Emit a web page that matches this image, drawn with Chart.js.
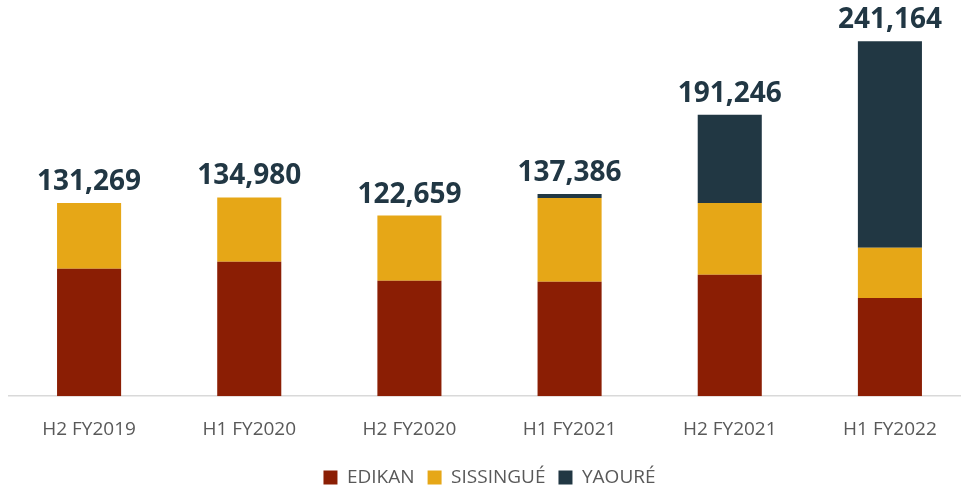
<!DOCTYPE html>
<html>
<head>
<meta charset="utf-8">
<script src="https://cdn.jsdelivr.net/npm/chart.js@4"></script>
<style>
  html, body { margin: 0; padding: 0; background: #fff; overflow: hidden; }
  #wrap { width: 970px; height: 497px; }
</style>
</head>
<body>
<div id="wrap"><canvas id="myChart"></canvas></div>
<script>
const periods = ['H2 FY2019', 'H1 FY2020', 'H2 FY2020', 'H1 FY2021', 'H2 FY2021', 'H1 FY2022'];
const edikan = [86500, 91300, 78350, 77670, 82440, 66770];
const sissingue = [44769, 43680, 44309, 57016, 48856, 34044];
const yaoure = [0, 0, 0, 2700, 59950, 140350];
const totals = [131269, 134980, 122659, 137386, 191246, 241164];

// totals above each stack
const totalLabels = {
    id: 'totalLabels',
    afterDatasetsDraw(chart) {
        const ctx = chart.ctx;
        const last = chart.getDatasetMeta(chart.data.datasets.length - 1);
        ctx.save();
        ctx.font = 'bold 28px "Open Sans"';
        ctx.fillStyle = '#213744';
        ctx.textAlign = 'center';
        ctx.textBaseline = 'alphabetic';
        last.data.forEach((bar, i) => {
            const y = chart.scales.y.getPixelForValue(totals[i]);
            ctx.fillText(totals[i].toLocaleString('en-US'), bar.x, y - 13);
        });
        ctx.restore();
    }
};

document.addEventListener("DOMContentLoaded", function () {
    const data = {
        labels: periods,
        datasets: [
            { label: 'EDIKAN', data: edikan, backgroundColor: '#8B1E04' },
            { label: 'SISSINGUÉ', data: sissingue, backgroundColor: '#E6A717' },
            { label: 'YAOURÉ', data: yaoure, backgroundColor: '#213743' }
        ]
    };
    data.datasets.forEach(ds => {
        ds.borderWidth = 0;
        ds.barPercentage = 0.4;
        ds.categoryPercentage = 1.0;
    });

    const config = {
        type: 'bar',
        data: data,
        plugins: [totalLabels],
        options: {
            responsive: true,
            maintainAspectRatio: false,
            animation: false,
            layout: { padding: { left: 9, right: 0, top: 0, bottom: 0 } },
            scales: {
                x: {
                    stacked: true,
                    grid: { display: false },
                    border: { display: true, color: '#d9d9d9', width: 1.5 },
                    ticks: {
                        color: '#595959',
                        padding: 14,
                        font: { family: 'Open Sans', size: 19 }
                    }
                },
                y: {
                    stacked: true,
                    display: false,
                    min: 0,
                    max: 269100
                }
            },
            plugins: {
                legend: {
                    position: 'bottom',
                    labels: {
                        boxWidth: 14,
                        boxHeight: 14,
                        padding: 13,
                        color: '#595959',
                        font: { family: 'Open Sans', size: 19 }
                    }
                },
                tooltip: { enabled: false }
            }
        }
    };
    var myChart = new Chart(document.getElementById('myChart'), config);
});
</script>
</body>
</html>
